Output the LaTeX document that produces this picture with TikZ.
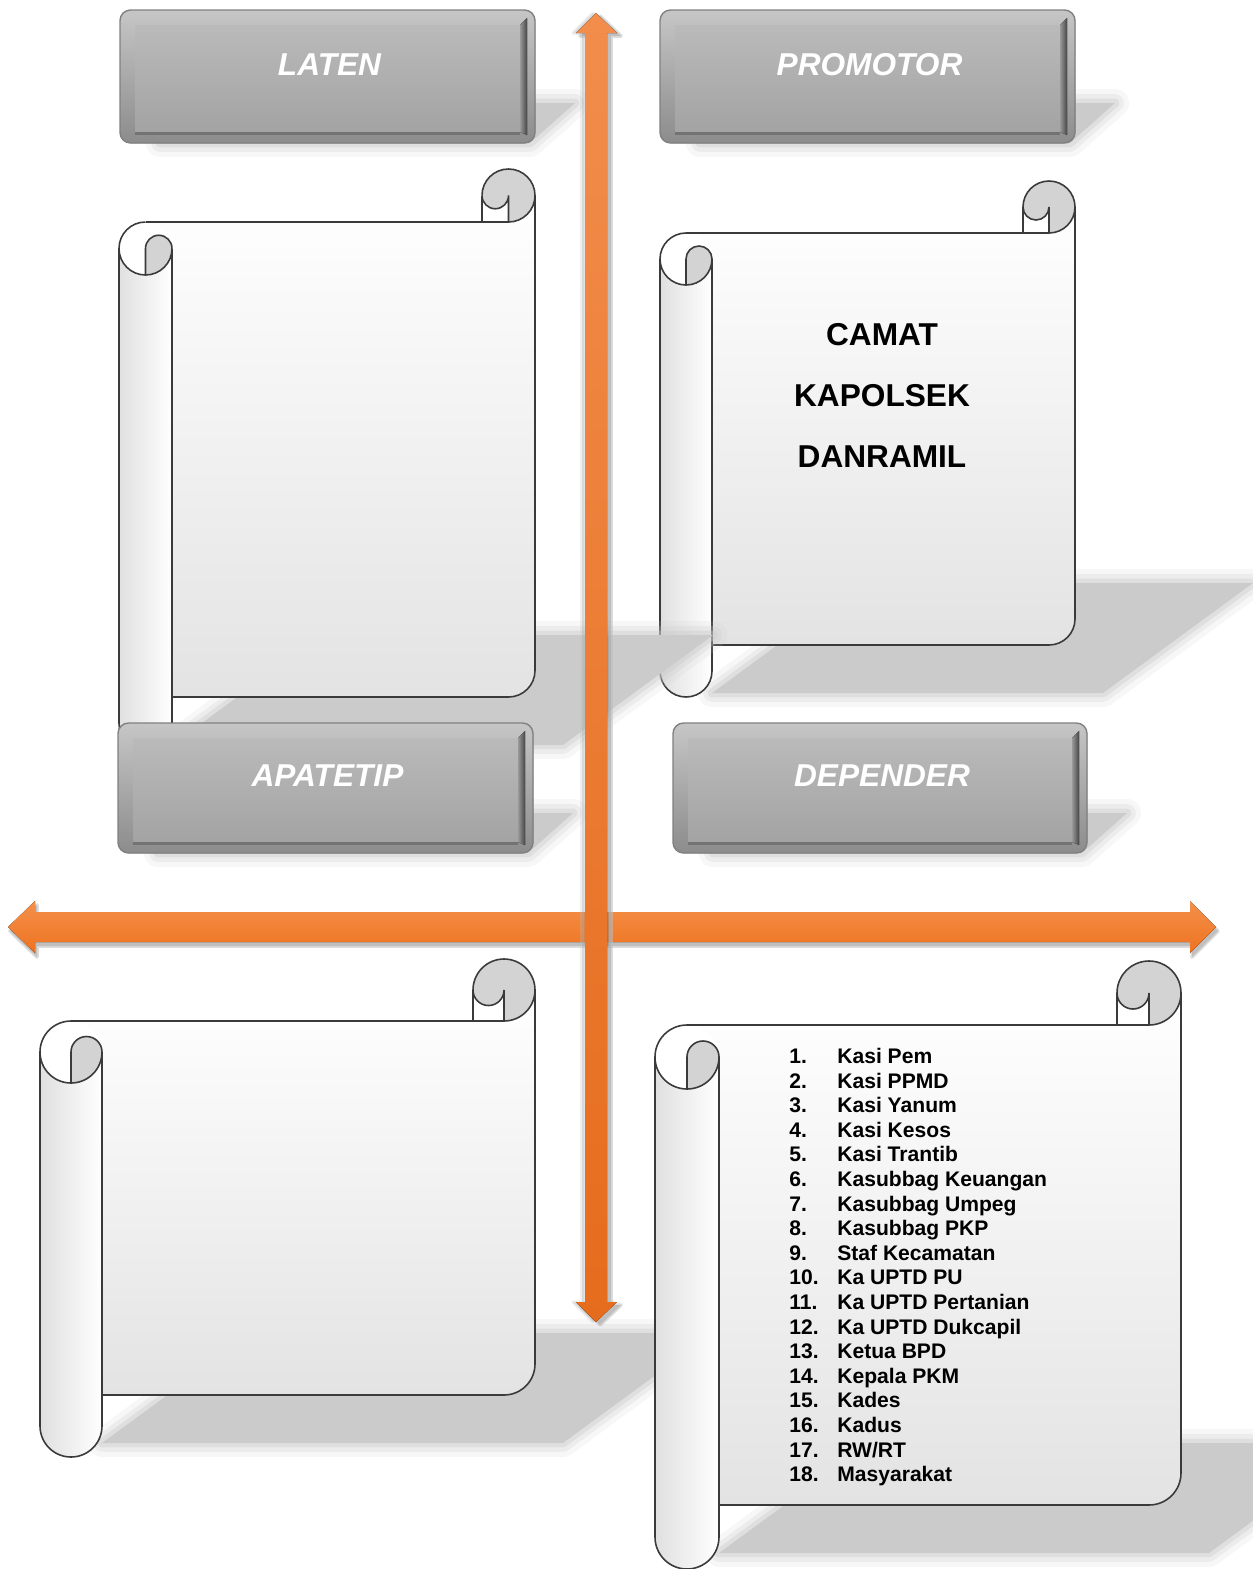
\documentclass[tikz,border=0pt]{standalone}
\usepackage{fontspec}
\setmainfont{Liberation Sans}

\definecolor{rimtop}{HTML}{C6C6C6}
\definecolor{rimbot}{HTML}{8C8C8C}
\definecolor{facetop}{HTML}{BABABA}
\definecolor{facebot}{HTML}{A3A3A3}
\definecolor{edgedark}{HTML}{464646}
\definecolor{scrollline}{HTML}{3A3A3A}
\definecolor{paperbot}{HTML}{E3E3E3}
\definecolor{tubeleft}{HTML}{E0E0E0}
\definecolor{curlgrey}{HTML}{D3D3D3}
\definecolor{shadowgrey}{HTML}{CBCBCB}
\definecolor{vtop}{HTML}{F28D4C}
\definecolor{vbot}{HTML}{E66C1D}
\definecolor{htop}{HTML}{F4904A}
\definecolor{hbot}{HTML}{EE7321}

\tikzset{
  outline/.style={draw=scrollline, line width=0.9pt},
  paper/.style={top color=white, bottom color=paperbot},
  tube/.style={left color=tubeleft, right color=white},
  headertext/.style={text=white, font=\fontsize{18}{22}\selectfont\bfseries\itshape, inner sep=0pt},
  bigtext/.style={font=\fontsize{18}{22}\selectfont\bfseries, inner sep=0pt},
  listtext/.style={anchor=base west, font=\fontsize{12}{14}\selectfont\bfseries, inner sep=0pt},
  arrowshadow/.style={fill=black!45, draw=black!25, line width=2pt, line join=round, opacity=0.55},
}

% soft grey shadow under a closed path
\newcommand{\softshade}[2][shadowgrey]{%
  \foreach \lw/\op in {16pt/0.15,10pt/0.25,5pt/0.4}{%
    \draw[#1, line width=\lw, line join=round, opacity=\op] #2;
  }%
  \fill[#1] #2;
}

% scroll: left, right, top, bottom, roll radius
\newcommand{\drawscroll}[5]{%
  % shadow
  \softshade{({#1+2*#5},{#4+48}) -- ({#2+28},{#4+48}) -- ({#2+178},{#4-62}) -- ({#1+2*#5+150},{#4-62}) -- cycle}
  % sheet
  \fill[paper] ({#1+#5},#3) -- ({#2-#5},#3) -- ({#2-#5},{#3-#5}) -- (#2,{#3-#5}) -- (#2,{#4-#5})
    arc[start angle=0,end angle=90,radius=#5] -- ({#1+#5},#4) -- cycle;
  % left roll
  \fill[tube] (#1,{#3+#5}) -- (#1,{#4+#5}) arc[start angle=180,end angle=0,radius=#5] -- ({#1+2*#5},{#3+#5}) -- cycle;
  \fill[white] ({#1+#5},{#3+#5}) circle[radius=#5];
  \fill[curlgrey] ({#1+#5},{#3+2*#5}) -- ({#1+#5},{#3+#5}) arc[start angle=180,end angle=360,radius={#5/2}]
    arc[start angle=0,end angle=90,radius=#5] -- cycle;
  % top right curl
  \fill[curlgrey] ({#2-#5},{#3-#5}) circle[radius=#5];
  \fill[white] ({#2-2*#5},{#3-#5}) arc[start angle=180,end angle=0,radius={#5/2}] -- ({#2-#5},#3) -- ({#2-2*#5},#3) -- cycle;
  % outlines
  \draw[outline] ({#1+#5},#3) -- ({#2-#5},#3);
  \draw[outline] (#2,{#3-#5}) -- (#2,{#4-#5}) arc[start angle=0,end angle=90,radius=#5] -- ({#1+2*#5},#4);
  \draw[outline] ({#1+2*#5},{#3+#5}) -- ({#1+2*#5},{#4+#5}) arc[start angle=0,end angle=180,radius=#5] -- (#1,{#3+#5});
  \draw[outline] ({#1+#5},#3) arc[start angle=-90,end angle=-360,radius=#5];
  \draw[outline] ({#1+#5},{#3+2*#5}) -- ({#1+#5},{#3+#5}) arc[start angle=180,end angle=360,radius={#5/2}];
  \draw[outline] ({#2-#5},#3) arc[start angle=90,end angle=-180,radius=#5];
  \draw[outline] ({#2-2*#5},{#3-#5}) -- ({#2-2*#5},#3);
  \draw[outline] ({#2-2*#5},{#3-#5}) arc[start angle=180,end angle=0,radius={#5/2}] -- ({#2-#5},#3);
}

% grey header: left, right, top, bottom, name, text
\newcommand{\headerbox}[6]{%
  \softshade{({#1+40},#4) -- ({#2-5},#4) -- ({#2+40},{#4-40}) -- ({#1+85},{#4-40}) -- cycle}
  \filldraw[draw=black!50, line width=0.8pt, top color=rimtop, bottom color=rimbot, rounded corners=6pt] (#1,#3) rectangle (#2,#4);
  \fill[top color=facetop, bottom color=facebot] ({#1+15},{#3+15}) rectangle ({#2-15},{#4-11});
  \fill[left color=black!40, right color=edgedark] ({#2-15},{#3+15}) -- ({#2-8},{#3+8}) -- ({#2-8},{#4-8}) -- ({#2-15},{#4-11}) -- cycle;
  \fill[black!55] ({#1+15},{#4-11}) rectangle ({#2-15},{#4-8});
  \node[headertext] (#5) at ({(#1+#2)/2+2},{(#3+#4)/2-12}) {#6};
}

\def\harrow{(8,927) -- (35,901) -- (35,912) -- (1190,912) -- (1190,901) -- (1216,927) -- (1190,953) -- (1190,942) -- (35,942) -- (35,953) -- cycle}
\def\varrow{(596,13) -- (617,33) -- (607,33) -- (607,1302) -- (617,1302) -- (596,1322) -- (576,1302) -- (585,1302) -- (585,33) -- (576,33) -- cycle}

\begin{document}
\begin{tikzpicture}[x=0.02cm, y=-0.02cm]
  \useasboundingbox (0,0) rectangle (1252,1569);

  % Draw the four scrolls
  \drawscroll{660}{1075}{233}{645}{26}
  \drawscroll{119}{535}{222}{697}{26.5}
  \drawscroll{40}{535}{1021}{1395}{31}
  \drawscroll{655}{1181}{1025}{1505}{32}

  % Draw the four headers
  \headerbox{120}{535}{10}{143}{laten}{LATEN}
  \headerbox{660}{1075}{10}{143}{promotor}{PROMOTOR}
  \headerbox{118}{533}{723}{853}{apatetip}{APATETIP}
  \headerbox{673}{1087}{723}{853}{depender}{DEPENDER}

  % Draw the two axes
  \fill[arrowshadow, shift={(2,4)}] \harrow;
  \fill[top color=htop, bottom color=hbot] \harrow;
  \fill[arrowshadow, shift={(4,3)}] \varrow;
  \fill[arrowshadow, shift={(-3,0)}, opacity=0.25] \varrow;
  \fill[top color=vtop, bottom color=vbot] \varrow;

  % Promotor names
  \node[bigtext] (camat) at (882,335) {CAMAT};
  \node[bigtext] (kapolsek) at (882,396) {KAPOLSEK};
  \node[bigtext] (danramil) at (882,457) {DANRAMIL};

  % Depender list
  \foreach \entry [count=\i] in {Kasi Pem, Kasi PPMD, Kasi Yanum, Kasi Kesos, Kasi Trantib,
      Kasubbag Keuangan, Kasubbag Umpeg, Kasubbag PKP, Staf Kecamatan, Ka UPTD PU,
      Ka UPTD Pertanian, Ka UPTD Dukcapil, Ketua BPD, Kepala PKM, Kades, Kadus, RW/RT, Masyarakat}{
    \node[listtext] (num\i) at (789,{1063.5+24.6*(\i-1)}) {\i.};
    \node[listtext] (entry\i) at (837,{1063.5+24.6*(\i-1)}) {\entry};
  }
\end{tikzpicture}
\end{document}
